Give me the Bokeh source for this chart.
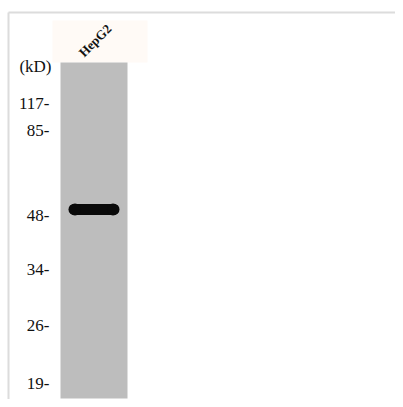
import numpy as np
from bokeh.plotting import figure
from bokeh.models import Range1d
from bokeh.core.properties import value
from bokeh.embed import file_html
from bokeh.resources import INLINE

# ---- data ----
lanes = ["HepG2"]
marker_kd = [117, 85, 48, 34, 26, 19]
marker_labels = ["117-", "85-", "48-", "34-", "26-", "19-"]
marker_rows = [103, 130, 215, 269, 325, 383]   # migration position of each marker (px from top of image)
band_kd = [50]
band_lane = [0]
unit_label = "(kD)"

# ---- figure in image-pixel coordinates ----
W, H = 395, 399
p = figure(width=W, height=H, output_backend="svg", toolbar_location=None,
           x_range=Range1d(0, W), y_range=Range1d(H, 0),
           min_border=0, outline_line_color=None)
p.axis.visible = False
p.grid.visible = False
p.background_fill_color = "white"

serif = value("Liberation Serif")

# frame lines
p.segment(x0=[8, 8], y0=[12, 12], x1=[W, 8], y1=[12, H], line_color="#dcdcdc", line_width=2)

# label background
p.quad(left=[52], right=[147], top=[20], bottom=[62], fill_color="#fffaf6", line_color=None)

# lanes
lane_left, lane_w = 60, 67
lane_top, lane_bot = 62, 398
lx = [lane_left + i * lane_w for i in range(len(lanes))]
p.quad(left=lx, right=[x + lane_w for x in lx], top=[lane_top] * len(lanes), bottom=[lane_bot] * len(lanes),
       fill_color="#bdbdbd", line_color=None)

# lane labels
p.text(x=[x + lane_w / 2 + 1 for x in lx], y=[40] * len(lanes), text=lanes, angle=np.pi / 4,
       text_font=serif, text_font_size="13px", text_align="center", text_baseline="middle",
       text_color="#111111", text_font_style="bold")

# marker labels
p.text(x=[49] * len(marker_labels), y=marker_rows, text=marker_labels, text_font=serif,
       text_font_size="17px", text_align="right", text_baseline="middle", text_color="#111111")
p.text(x=[51], y=[66], text=[unit_label], text_font=serif, text_font_size="17px",
       text_align="right", text_baseline="middle", text_color="#111111")

# bands: position via log-kD scale fitted through markers
lk = np.log10(marker_kd)[::-1]
rows = np.array(marker_rows)[::-1]
band_y = [float(np.interp(np.log10(k), lk, rows)) for k in band_kd]
bx = [lx[i] + lane_w / 2 for i in band_lane]
p.segment(x0=[x - 20 for x in bx], x1=[x + 20 for x in bx], y0=band_y, y1=band_y,
          line_color="#0a0a0a", line_width=11, line_cap="round")
p.scatter(x=[x - 19 for x in bx] + [x + 19 for x in bx], y=band_y * 2, size=12,
          fill_color="#0a0a0a", line_color=None)

open("out.html", "w").write(file_html(p, INLINE))
